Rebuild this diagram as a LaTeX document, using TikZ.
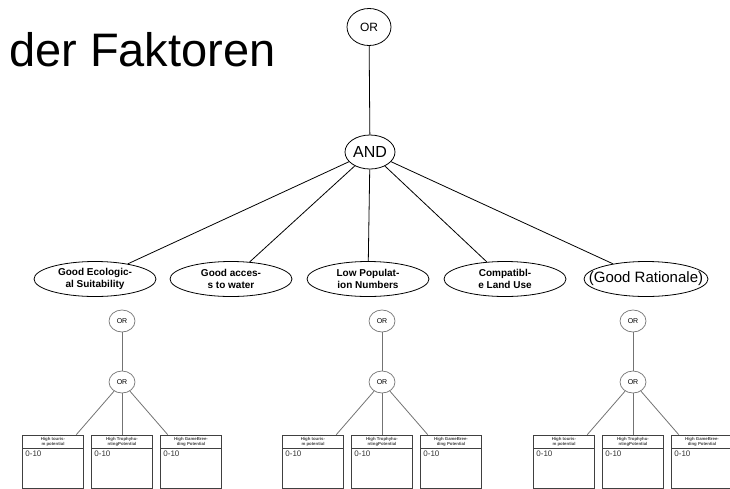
\documentclass[tikz,border=0pt]{standalone}
\usepackage{fontspec}
\setmainfont{Liberation Sans}
\usetikzlibrary{shapes.geometric}
\begin{document}
\begin{tikzpicture}[x=1pt,y=-1pt,
  gate/.style={ellipse, draw, line width=0.8pt, inner sep=0pt,
    minimum width=44pt, minimum height=37pt},
  goal/.style={ellipse, draw, line width=0.8pt, inner sep=0pt,
    minimum width=122pt, minimum height=35pt, align=center,
    font=\bfseries\fontsize{10}{11.5}\selectfont},
  subgate/.style={ellipse, draw=black!55, line width=0.7pt, inner sep=0pt,
    minimum width=26pt, minimum height=22pt, font=\fontsize{7}{7}\selectfont},
  leaf/.style={rectangle, draw=black!75, line width=0.6pt, inner sep=0pt,
    minimum width=61pt, minimum height=53pt,
    path picture={\draw[black!75, line width=0.6pt]
      ([yshift=-13pt]path picture bounding box.north west) --
      ([yshift=-13pt]path picture bounding box.north east);}},
  leafhead/.style={anchor=north, inner sep=0pt, align=center,
    font=\bfseries\fontsize{4.3}{5.2}\selectfont, text=black!75},
  leafval/.style={anchor=north west, inner sep=0pt,
    font=\fontsize{8}{8}\selectfont, text=black!80},
  link/.style={draw, line width=0.8pt},
  sublink/.style={draw=black!55, line width=0.8pt}]
\useasboundingbox (0,0) rectangle (730,488);

% heading fragment
\node[anchor=base west, inner sep=0pt, font=\fontsize{47}{47}\selectfont]
  (title) at (9,66) {der Faktoren};

% top of the tree
\node[gate, font=\fontsize{12}{12}\selectfont] (top) at (369,27) {OR};
\node[gate, minimum width=50pt, minimum height=34pt,
  font=\fontsize{16}{16}\selectfont] (and) at (370,152) {AND};
\path[link] (top) -- (and);

% criteria
\node[goal] (eco) at (95,279) {Good Ecologic-\\al Suitability};
\node[goal] (water) at (231,279) {Good acces-\\s to water};
\node[goal] (pop) at (368,279) {Low Populat-\\ion Numbers};
\node[goal] (land) at (505,279) {Compatibl-\\e Land Use};
\node[goal, inner xsep=-20pt, inner ysep=0pt, minimum width=124pt,
  font=\fontsize{15}{16}\selectfont] (rat) at (646,279) {(Good Rationale)};
\foreach \n in {eco,water,pop,land,rat}
  \path[link] (and) -- (\n);

% sub-trees with the potentials
\foreach \cx/\g in {122/a, 382/b, 633/c} {
  \node[subgate] (or1\g) at (\cx,321) {OR};
  \node[subgate] (or2\g) at (\cx,382) {OR};
  \path[sublink] (or1\g) -- (or2\g);
  \foreach \dx/\k/\head in {-69/1/{High touris-\\m potential},
                            0/2/{High Trophyhu-\\ntingPotential},
                            69/3/{High GameBree-\\ding Potential}} {
    \node[leaf] (box\g\k) at (\cx+\dx,461.5) {};
    \node[leafhead] (head\g\k) at ([yshift=-2pt]box\g\k.north) {\head};
    \node[leafval] (val\g\k) at ([shift={(3pt,-16pt)}]box\g\k.north west) {0-10};
    \path[sublink] (or2\g) -- (box\g\k);
  }
}
\end{tikzpicture}
\end{document}
